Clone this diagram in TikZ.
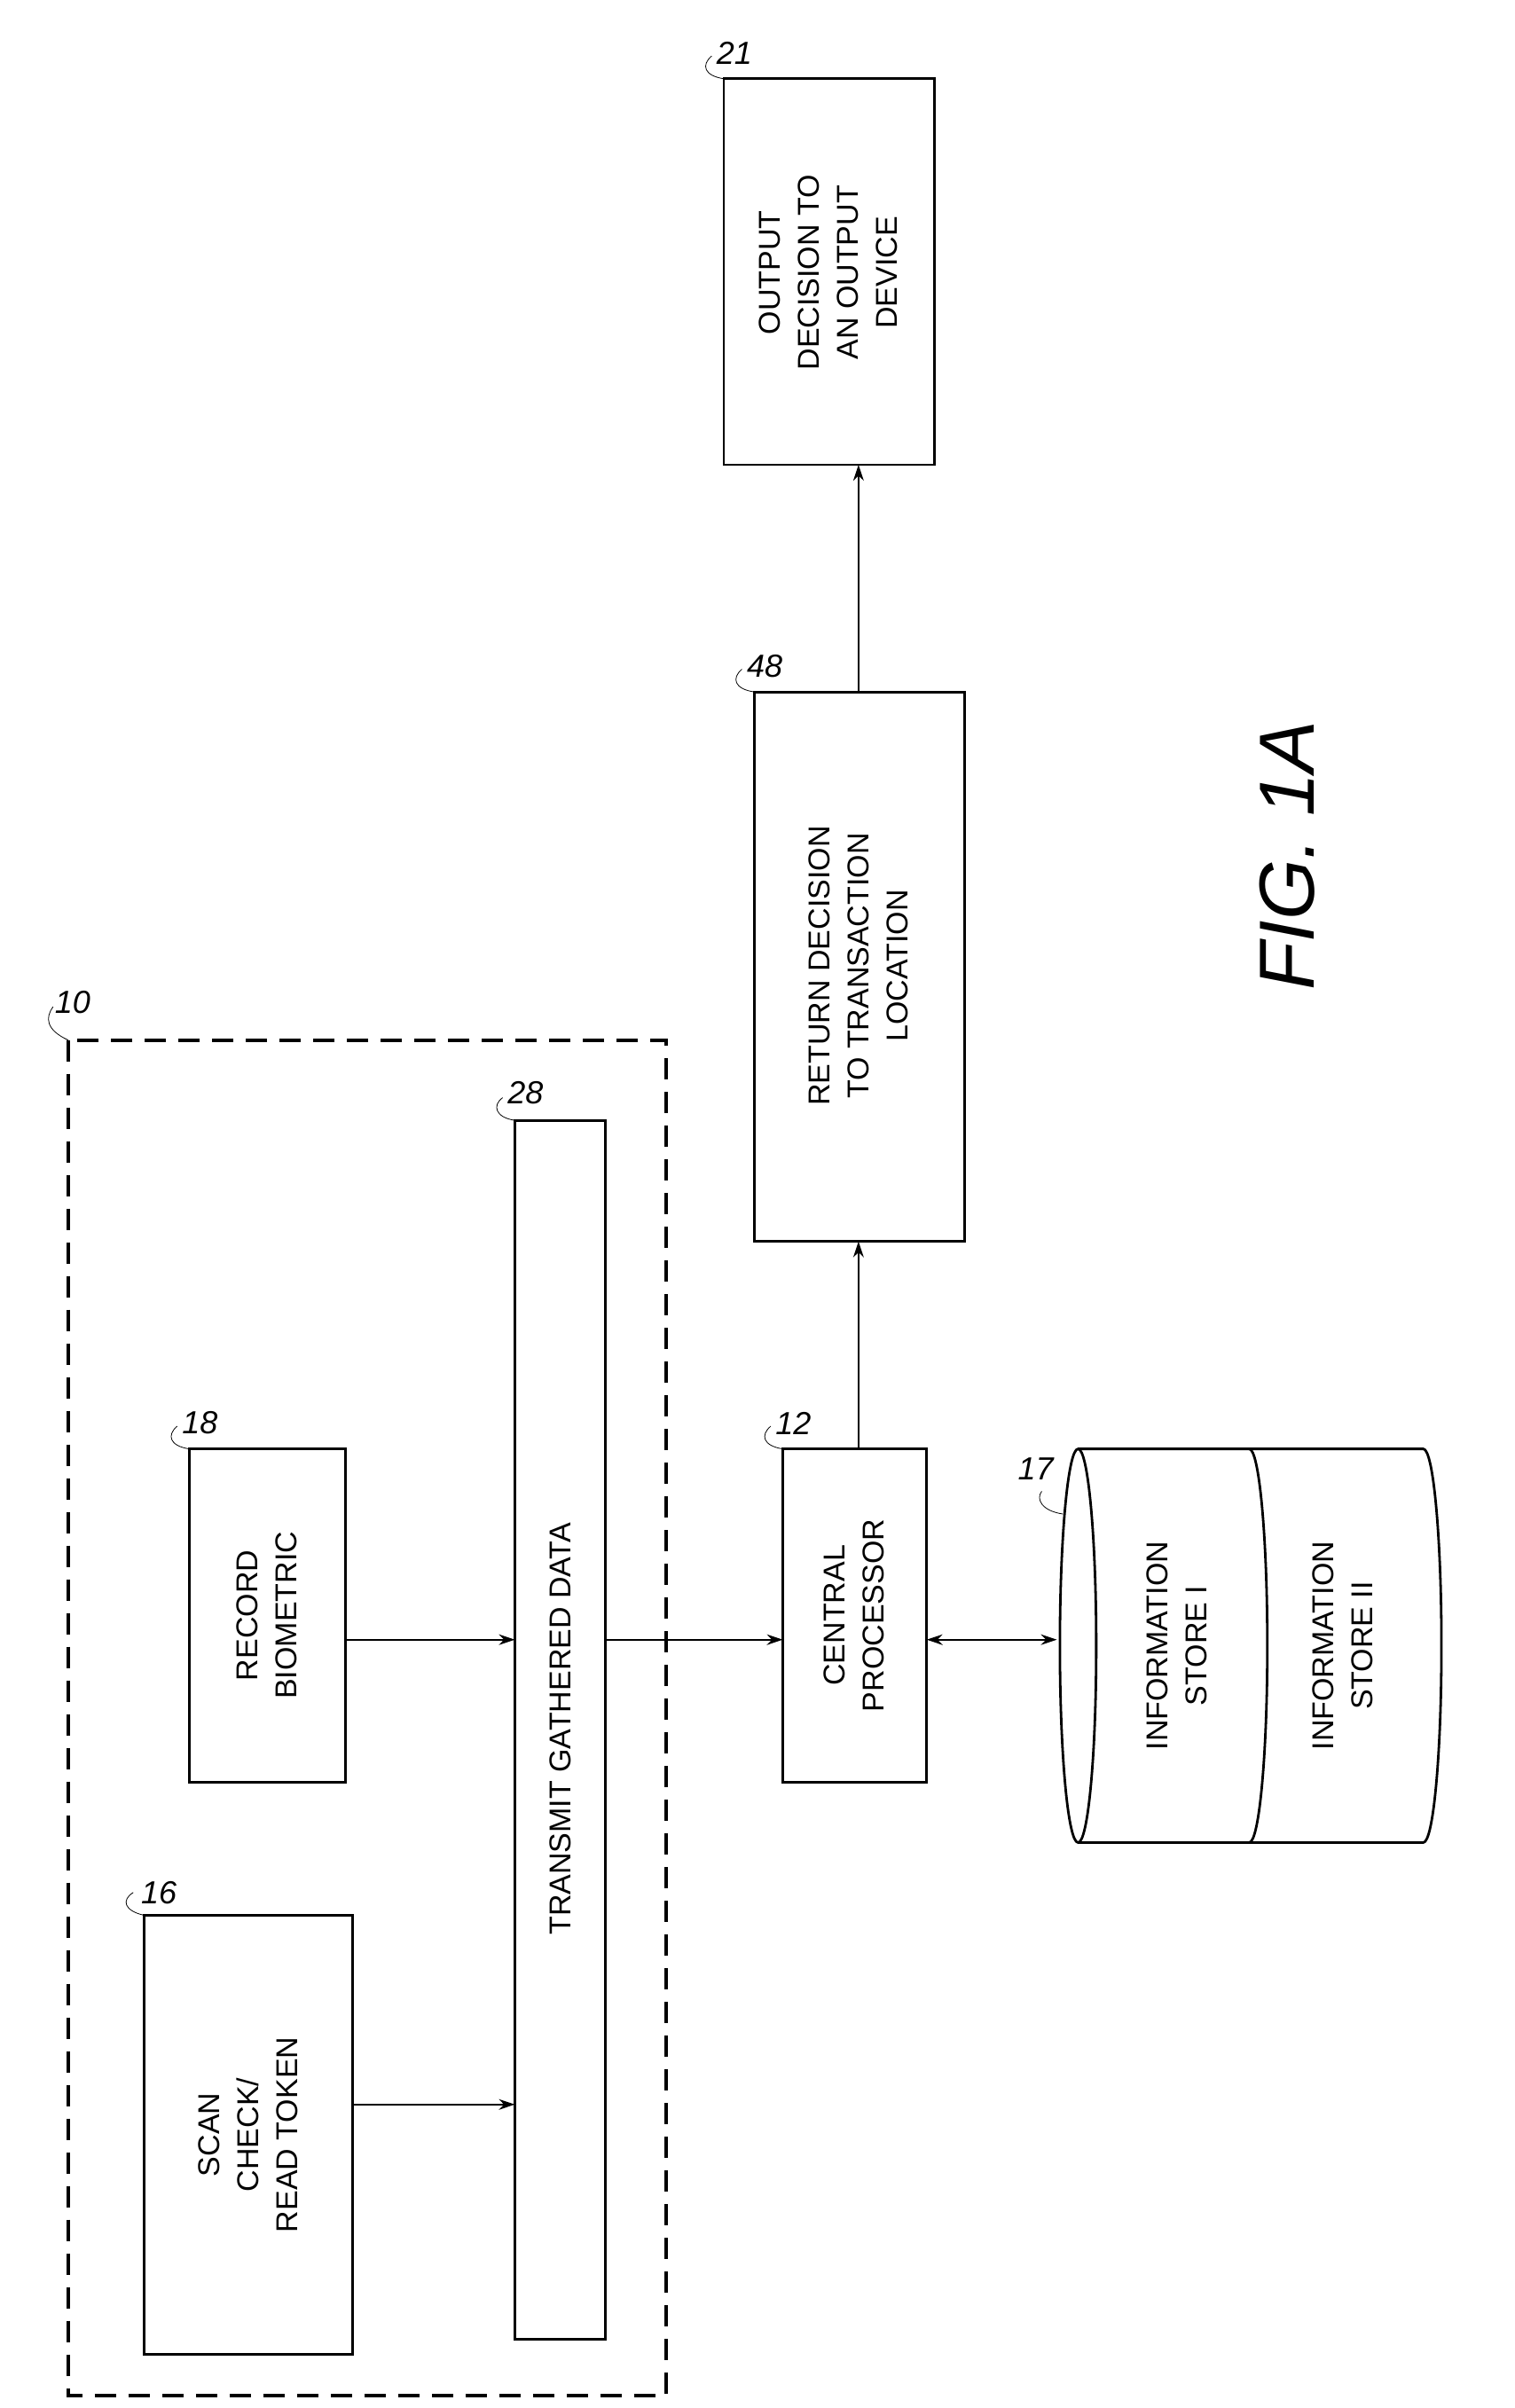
\documentclass[tikz,border=0pt]{standalone}
\usepackage{fontspec}
\setmainfont{Liberation Sans}
\usetikzlibrary{arrows.meta}
\begin{document}
\begin{tikzpicture}[x=0.03cm,y=-0.03cm,
    box/.style={draw,line width=1.4pt},
    txt/.style={rotate=90,align=center,font=\fontsize{17}{22}\selectfont},
    ref/.style={font=\itshape\fontsize{18}{20}\selectfont},
    arr/.style={-{Stealth[length=9pt,width=6pt]},line width=0.8pt}]
  \useasboundingbox (0,0) rectangle (1000,1590.5);
  % dashed frame 10
  \draw[line width=2pt,dash pattern=on 12pt off 7pt] (45,687) rectangle (440,1582);
  % blocks
  \draw[box] (95,1265) rectangle (233,1555);
  \node[txt] (scan) at (164,1410) {SCAN\\CHECK/\\READ TOKEN};
  \draw[box] (125,957) rectangle (228,1177);
  \node[txt] (rec) at (176,1067) {RECORD\\BIOMETRIC};
  \draw[box] (340,740) rectangle (400,1545);
  \node[txt] (trans) at (370,1142) {TRANSMIT GATHERED DATA};
  \draw[box] (517,957) rectangle (612,1177);
  \node[txt] (cpu) at (564,1067) {CENTRAL\\PROCESSOR};
  \draw[box] (498,457) rectangle (637,820);
  \node[txt] (ret) at (567,638) {RETURN DECISION\\TO TRANSACTION\\LOCATION};
  \draw[box] (478,52) rectangle (617,307);
  \node[txt] (out) at (547,180) {OUTPUT\\DECISION TO\\AN OUTPUT\\DEVICE};
  % storage 17
  \draw[line width=1.4pt] (712,957) -- (940,957) arc[start angle=-90,end angle=90,x radius=12,y radius=130]
    -- (712,1217);
  \draw[line width=1.4pt] (712,1087) ellipse[x radius=12,y radius=130];
  \draw[line width=1.4pt] (825,957) arc[start angle=-90,end angle=90,x radius=12,y radius=130];
  \node[txt] (st1) at (777,1087) {INFORMATION\\STORE I};
  \node[txt] (st2) at (887,1087) {INFORMATION\\STORE II};
  % connectors
  \draw[arr] (233,1390) -- (340,1390);
  \draw[arr] (228,1083) -- (340,1083);
  \draw[arr] (400,1083) -- (517,1083);
  \draw[{Stealth[length=9pt,width=6pt]}-{Stealth[length=9pt,width=6pt]},line width=0.8pt] (612,1083) -- (698,1083);
  \draw[arr] (567,957) -- (567,820);
  \draw[arr] (567,457) -- (567,307);
  % reference numerals
  \node[ref] (n10) at (48,662) {10};
  \draw (45,687) .. controls (30,680) and (30,672) .. (35,665);
  \node[ref] (n16) at (105,1250) {16};
  \draw (95,1265) .. controls (82,1262) and (80,1255) .. (88,1250);
  \node[ref] (n18) at (132,940) {18};
  \draw (125,957) .. controls (112,955) and (110,948) .. (117,942);
  \node[ref] (n28) at (347,722) {28};
  \draw (340,740) .. controls (327,738) and (325,730) .. (332,725);
  \node[ref] (n12) at (524,940) {12};
  \draw (517,957) .. controls (504,955) and (502,948) .. (509,942);
  \node[ref] (n17) at (684,970) {17};
  \draw (702,1000) .. controls (688,998) and (684,990) .. (688,985);
  \node[ref] (n48) at (505,440) {48};
  \draw (498,457) .. controls (485,455) and (483,448) .. (490,442);
  \node[ref] (n21) at (485,35) {21};
  \draw (478,52) .. controls (465,50) and (463,43) .. (470,37);
  \node[rotate=90,font=\itshape\fontsize{44}{48}\selectfont] (fig) at (850,565) {FIG. 1A};
\end{tikzpicture}
\end{document}
